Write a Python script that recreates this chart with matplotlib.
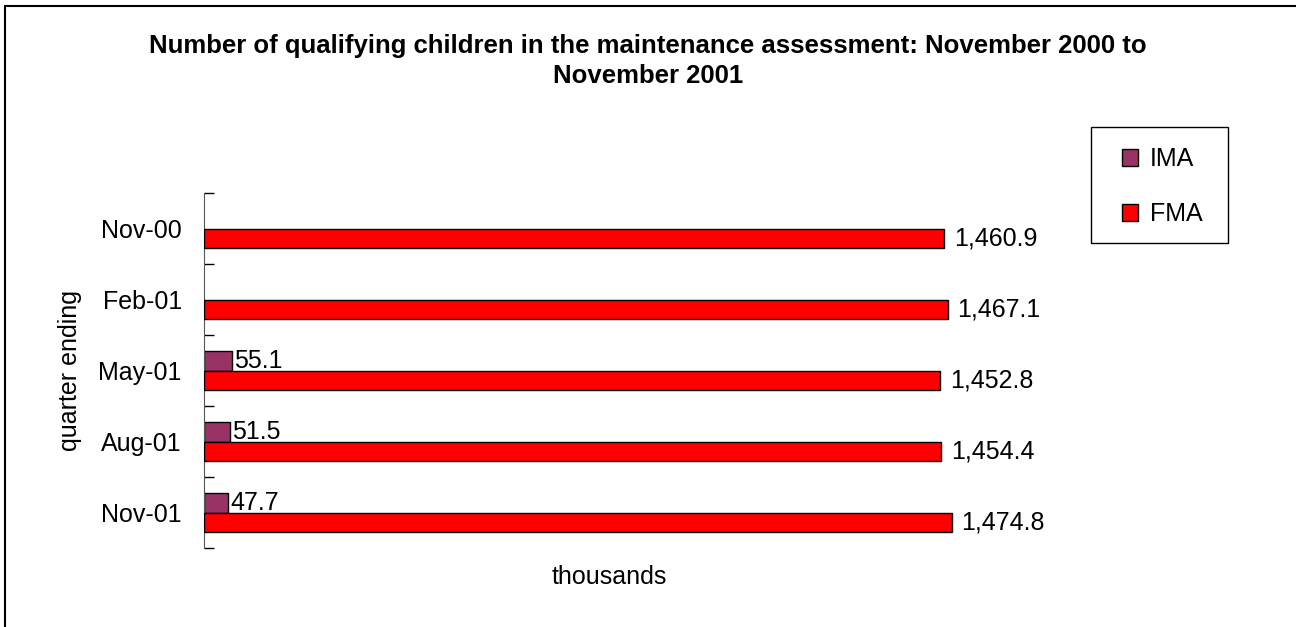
import numpy as np
import matplotlib
matplotlib.use("Agg")
from matplotlib import pyplot as plt
from matplotlib.patches import Rectangle

plt.rcParams['font.family'] = ['Liberation Sans', 'DejaVu Sans']

quarters = ['Nov-00', 'Feb-01', 'May-01', 'Aug-01', 'Nov-01']
ima = [np.nan, np.nan, 55.1, 51.5, 47.7]
fma = [1460.9, 1467.1, 1452.8, 1454.4, 1474.8]

ima_colour = '#993366'
fma_colour = '#FF0000'
fs = 18

fig = plt.figure(figsize=(12.96, 6.27), dpi=100)
ax = fig.add_axes([204/1296, 1-548/627, 811/1296, 355/627])

y = np.arange(len(quarters))
h = 0.28
ax.barh(y - h/2, ima, height=h, color=ima_colour, edgecolor='black', lw=1,
        label='IMA', zorder=2)
ax.barh(y + h/2, fma, height=h, color=fma_colour, edgecolor='black', lw=1,
        label='FMA', zorder=4)

for yi, v in zip(y, ima):
    if np.isnan(v):
        continue
    ax.annotate(f'{v:,.1f}', (v, yi - h/2), xytext=(1.5, 0), textcoords='offset points',
                va='center', ha='left', fontsize=fs, zorder=3)
for yi, v in zip(y, fma):
    ax.annotate(f'{v:,.1f}', (v, yi + h/2), xytext=(7, 0), textcoords='offset points',
                va='center', ha='left', fontsize=fs, zorder=5)

ax.set_xlim(0, 1600)
ax.set_ylim(len(quarters) - 0.5, -0.5)
ax.set_xticks([])
# tick marks between the quarters, labels at the centres
ax.set_yticks(np.arange(-0.5, len(quarters), 1.0))
ax.set_yticklabels([])
ax.set_yticks(y, minor=True)
ax.set_yticklabels(quarters, minor=True, fontsize=fs)
ax.tick_params(axis='y', which='major', direction='in', length=7, width=1)
ax.tick_params(axis='y', which='minor', length=0, pad=16)
for s in ['top', 'right', 'bottom']:
    ax.spines[s].set_visible(False)
ax.spines['left'].set_color('#555555')

ax.set_xlabel('thousands', fontsize=fs, labelpad=12)
ax.set_ylabel('quarter ending', fontsize=fs, labelpad=12)

fig.text(0.5, 1-34/627, 'Number of qualifying children in the maintenance assessment: November 2000 to\nNovember 2001',
         ha='center', va='top', fontsize=18.5, fontweight='bold', linespacing=1.3,
         transform=fig.transFigure)

# legend entries without frame, box drawn separately
leg = fig.legend(loc='upper left', bbox_to_anchor=(1122/1296, 1-147/627), fontsize=fs,
                 frameon=False, handlelength=0.65, handleheight=0.65, handletextpad=0.45,
                 labelspacing=1.25, borderpad=0, borderaxespad=0)
fig.add_artist(Rectangle((1091/1296, 1-243/627), 137/1296, 116/627, transform=fig.transFigure,
                         fill=False, lw=1, edgecolor='black'))

# chart area border
fig.add_artist(Rectangle((5/1296, -0.5), 2, 0.5 + 1 - 6/627, transform=fig.transFigure,
                         fill=False, lw=1.5, edgecolor='black'))

fig.savefig('out.png', dpi=100)
